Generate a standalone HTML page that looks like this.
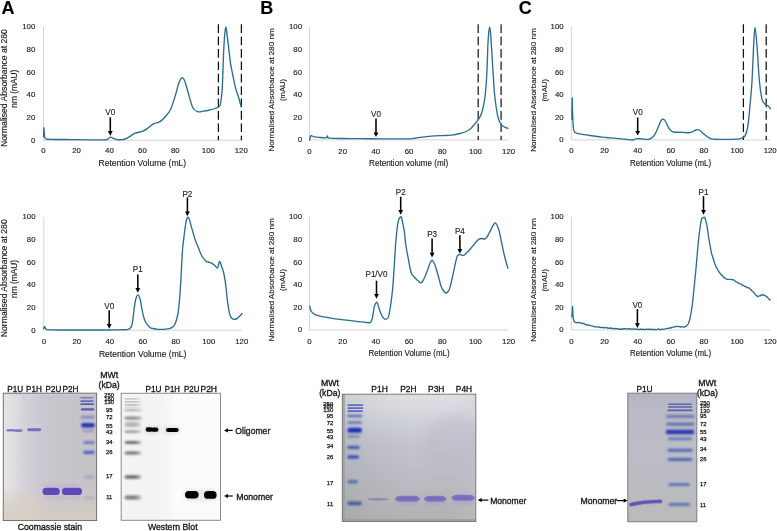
<!DOCTYPE html>
<html><head><meta charset="utf-8"><title>Figure</title>
<style>html,body{margin:0;padding:0;background:#fff;}body{width:777px;height:531px;overflow:hidden;font-family:"Liberation Sans",sans-serif;}svg{display:block;will-change:transform;} text{stroke:#1a1a1a;stroke-width:0.14px;}</style>
</head><body>
<svg width="777" height="531" viewBox="0 0 777 531" font-family='"Liberation Sans", sans-serif'>
<rect width="777" height="531" fill="#fff"/>
<text x="1.50" y="14.10" font-size="18.00" text-anchor="start" fill="#000" font-weight="bold" >A</text>
<text x="260.20" y="14.10" font-size="18.00" text-anchor="start" fill="#000" font-weight="bold" >B</text>
<text x="518.80" y="14.10" font-size="18.00" text-anchor="start" fill="#000" font-weight="bold" >C</text>
<line x1="43.50" y1="26.80" x2="43.50" y2="140.30" stroke="#d4d4d4" stroke-width="1"/>
<line x1="43.50" y1="140.30" x2="241.30" y2="140.30" stroke="#d4d4d4" stroke-width="1"/>
<text x="35.30" y="142.77" font-size="7.80" text-anchor="end" fill="#1a1a1a" font-weight="normal" >0</text>
<text x="35.30" y="120.07" font-size="7.80" text-anchor="end" fill="#1a1a1a" font-weight="normal" >20</text>
<text x="35.30" y="97.37" font-size="7.80" text-anchor="end" fill="#1a1a1a" font-weight="normal" >40</text>
<text x="35.30" y="74.67" font-size="7.80" text-anchor="end" fill="#1a1a1a" font-weight="normal" >60</text>
<text x="35.30" y="51.97" font-size="7.80" text-anchor="end" fill="#1a1a1a" font-weight="normal" >80</text>
<text x="35.30" y="29.27" font-size="7.80" text-anchor="end" fill="#1a1a1a" font-weight="normal" >100</text>
<text x="43.50" y="153.32" font-size="7.80" text-anchor="middle" fill="#1a1a1a" font-weight="normal" >0</text>
<text x="76.47" y="153.32" font-size="7.80" text-anchor="middle" fill="#1a1a1a" font-weight="normal" >20</text>
<text x="109.43" y="153.32" font-size="7.80" text-anchor="middle" fill="#1a1a1a" font-weight="normal" >40</text>
<text x="142.40" y="153.32" font-size="7.80" text-anchor="middle" fill="#1a1a1a" font-weight="normal" >60</text>
<text x="175.37" y="153.32" font-size="7.80" text-anchor="middle" fill="#1a1a1a" font-weight="normal" >80</text>
<text x="208.33" y="153.32" font-size="7.80" text-anchor="middle" fill="#1a1a1a" font-weight="normal" >100</text>
<text x="241.30" y="153.32" font-size="7.80" text-anchor="middle" fill="#1a1a1a" font-weight="normal" >120</text>
<text x="142.30" y="166.10" font-size="9.00" text-anchor="middle" fill="#1a1a1a" font-weight="normal"  textLength="87.72" lengthAdjust="spacingAndGlyphs">Retention Volume (mL)</text>
<text transform="translate(7.00,88.05) rotate(-90)" font-size="9.20" text-anchor="middle" fill="#1a1a1a" textLength="117.84" lengthAdjust="spacingAndGlyphs">Normalised Absorbance at 280</text>
<text transform="translate(17.10,88.75) rotate(-90)" font-size="9.20" text-anchor="middle" fill="#1a1a1a" textLength="38.04" lengthAdjust="spacingAndGlyphs">nm (mAU)</text>
<line x1="218.40" y1="24.20" x2="218.40" y2="140.30" stroke="#111" stroke-width="1.25" stroke-dasharray="8.7 3.7"/>
<line x1="241.40" y1="24.20" x2="241.40" y2="140.30" stroke="#111" stroke-width="1.25" stroke-dasharray="8.7 3.7"/>
<path d="M43.60,136.50 C43.65,135.05 43.77,128.05 43.90,127.80 C44.03,127.55 44.13,133.20 44.40,135.00 C44.67,136.80 44.57,137.88 45.50,138.60 C46.43,139.32 45.92,139.13 50.00,139.30 C54.08,139.47 63.33,139.52 70.00,139.60 C76.67,139.68 84.33,139.77 90.00,139.80 C95.67,139.83 101.17,139.83 104.00,139.80 C106.83,139.77 105.95,140.05 107.00,139.60 C108.05,139.15 109.22,137.28 110.30,137.10 C111.38,136.92 112.38,138.08 113.50,138.50 C114.62,138.92 115.68,139.40 117.00,139.60 C118.32,139.80 120.07,139.80 121.40,139.70 C122.73,139.60 123.57,139.57 125.00,139.00 C126.43,138.43 128.32,137.27 130.00,136.30 C131.68,135.33 132.98,134.05 135.10,133.20 C137.22,132.35 140.55,132.07 142.70,131.20 C144.85,130.33 146.17,129.27 148.00,128.00 C149.83,126.73 151.75,124.62 153.70,123.60 C155.65,122.58 157.82,123.00 159.70,121.90 C161.58,120.80 163.17,119.12 165.00,117.00 C166.83,114.88 168.90,113.05 170.70,109.20 C172.50,105.35 174.50,98.10 175.80,93.90 C177.10,89.70 177.52,86.68 178.50,84.00 C179.48,81.32 180.70,78.38 181.70,77.80 C182.70,77.22 183.52,78.38 184.50,80.50 C185.48,82.62 186.23,86.00 187.60,90.50 C188.97,95.00 191.00,103.97 192.70,107.50 C194.40,111.03 196.08,111.08 197.80,111.70 C199.52,112.32 201.02,111.48 203.00,111.20 C204.98,110.92 207.70,110.45 209.70,110.00 C211.70,109.55 213.32,109.20 215.00,108.50 C216.68,107.80 218.78,107.27 219.80,105.80 C220.82,104.33 220.68,102.70 221.10,99.70 C221.52,96.70 221.93,94.42 222.30,87.80 C222.67,81.18 222.97,67.97 223.30,60.00 C223.63,52.03 223.90,45.47 224.30,40.00 C224.70,34.53 225.17,27.53 225.70,27.20 C226.23,26.87 226.72,32.13 227.50,38.00 C228.28,43.87 229.48,56.07 230.40,62.40 C231.32,68.73 232.15,71.77 233.00,76.00 C233.85,80.23 234.58,84.30 235.50,87.80 C236.42,91.30 237.57,93.90 238.50,97.00 C239.43,100.10 240.67,104.83 241.10,106.40" fill="none" stroke="#2b6d92" stroke-width="1.35" stroke-linejoin="round" stroke-linecap="round"/>
<line x1="110.30" y1="117.30" x2="110.30" y2="131.60" stroke="#000" stroke-width="1.55"/>
<path d="M107.90,131.10 L112.70,131.10 L110.30,135.80 Z" fill="#000"/>
<text x="110.30" y="115.37" font-size="9.20" text-anchor="middle" fill="#1a1a1a" font-weight="normal"  textLength="9.89" lengthAdjust="spacingAndGlyphs">V0</text>
<line x1="309.50" y1="26.80" x2="309.50" y2="139.90" stroke="#d4d4d4" stroke-width="1"/>
<line x1="309.50" y1="139.90" x2="508.60" y2="139.90" stroke="#d4d4d4" stroke-width="1"/>
<text x="302.00" y="142.37" font-size="7.80" text-anchor="end" fill="#1a1a1a" font-weight="normal" >0</text>
<text x="302.00" y="119.75" font-size="7.80" text-anchor="end" fill="#1a1a1a" font-weight="normal" >20</text>
<text x="302.00" y="97.13" font-size="7.80" text-anchor="end" fill="#1a1a1a" font-weight="normal" >40</text>
<text x="302.00" y="74.51" font-size="7.80" text-anchor="end" fill="#1a1a1a" font-weight="normal" >60</text>
<text x="302.00" y="51.89" font-size="7.80" text-anchor="end" fill="#1a1a1a" font-weight="normal" >80</text>
<text x="302.00" y="29.27" font-size="7.80" text-anchor="end" fill="#1a1a1a" font-weight="normal" >100</text>
<text x="309.50" y="153.52" font-size="7.80" text-anchor="middle" fill="#1a1a1a" font-weight="normal" >0</text>
<text x="342.68" y="153.52" font-size="7.80" text-anchor="middle" fill="#1a1a1a" font-weight="normal" >20</text>
<text x="375.87" y="153.52" font-size="7.80" text-anchor="middle" fill="#1a1a1a" font-weight="normal" >40</text>
<text x="409.05" y="153.52" font-size="7.80" text-anchor="middle" fill="#1a1a1a" font-weight="normal" >60</text>
<text x="442.23" y="153.52" font-size="7.80" text-anchor="middle" fill="#1a1a1a" font-weight="normal" >80</text>
<text x="475.42" y="153.52" font-size="7.80" text-anchor="middle" fill="#1a1a1a" font-weight="normal" >100</text>
<text x="508.60" y="153.52" font-size="7.80" text-anchor="middle" fill="#1a1a1a" font-weight="normal" >120</text>
<text x="408.60" y="165.80" font-size="8.60" text-anchor="middle" fill="#1a1a1a" font-weight="normal"  textLength="79.09" lengthAdjust="spacingAndGlyphs">Retention volume (ml)</text>
<text transform="translate(274.40,89.95) rotate(-90)" font-size="8.10" text-anchor="middle" fill="#1a1a1a" textLength="123.15" lengthAdjust="spacingAndGlyphs">Normalised Absorbance at 280 nm</text>
<text transform="translate(285.10,89.90) rotate(-90)" font-size="8.10" text-anchor="middle" fill="#1a1a1a" textLength="22.05" lengthAdjust="spacingAndGlyphs">(mAU)</text>
<line x1="478.20" y1="24.20" x2="478.20" y2="139.90" stroke="#1a1a1a" stroke-width="1.25" stroke-dasharray="8.7 3.7"/>
<line x1="501.10" y1="24.20" x2="501.10" y2="139.90" stroke="#1a1a1a" stroke-width="1.25" stroke-dasharray="8.7 3.7"/>
<path d="M309.60,140.20 C309.75,139.58 310.23,137.27 310.50,136.50 C310.77,135.73 310.57,135.55 311.20,135.60 C311.83,135.65 312.83,136.48 314.30,136.80 C315.77,137.12 318.20,137.32 320.00,137.50 C321.80,137.68 324.00,137.90 325.10,137.90 C326.20,137.90 326.22,137.82 326.60,137.50 C326.98,137.18 327.17,135.95 327.40,136.00 C327.63,136.05 327.62,137.43 328.00,137.80 C328.38,138.17 327.70,138.08 329.70,138.20 C331.70,138.32 334.95,138.42 340.00,138.50 C345.05,138.58 353.33,138.65 360.00,138.70 C366.67,138.75 373.33,138.78 380.00,138.80 C386.67,138.82 395.00,138.80 400.00,138.80 C405.00,138.80 407.33,138.93 410.00,138.80 C412.67,138.67 413.97,138.28 416.00,138.00 C418.03,137.72 419.12,137.45 422.20,137.10 C425.28,136.75 431.03,136.15 434.50,135.90 C437.97,135.65 440.15,135.73 443.00,135.60 C445.85,135.47 448.77,135.45 451.60,135.10 C454.43,134.75 457.55,134.10 460.00,133.50 C462.45,132.90 464.55,132.28 466.30,131.50 C468.05,130.72 469.27,129.83 470.50,128.80 C471.73,127.77 472.35,126.90 473.70,125.30 C475.05,123.70 477.30,121.17 478.60,119.20 C479.90,117.23 480.68,115.75 481.50,113.50 C482.32,111.25 482.88,108.78 483.50,105.70 C484.12,102.62 484.72,99.08 485.20,95.00 C485.68,90.92 486.05,86.70 486.40,81.20 C486.75,75.70 487.05,68.12 487.30,62.00 C487.55,55.88 487.65,49.50 487.90,44.50 C488.15,39.50 488.52,34.87 488.80,32.00 C489.08,29.13 489.32,27.30 489.60,27.30 C489.88,27.30 490.22,29.22 490.50,32.00 C490.78,34.78 491.03,39.88 491.30,44.00 C491.57,48.12 491.77,51.37 492.10,56.70 C492.43,62.03 492.90,69.87 493.30,76.00 C493.70,82.13 494.00,88.17 494.50,93.50 C495.00,98.83 495.68,103.92 496.30,108.00 C496.92,112.08 497.58,115.58 498.20,118.00 C498.82,120.42 499.38,121.28 500.00,122.50 C500.62,123.72 501.07,124.50 501.90,125.30 C502.73,126.10 503.98,126.80 505.00,127.30 C506.02,127.80 507.50,128.13 508.00,128.30" fill="none" stroke="#2b6d92" stroke-width="1.35" stroke-linejoin="round" stroke-linecap="round"/>
<line x1="376.00" y1="118.60" x2="376.00" y2="132.90" stroke="#000" stroke-width="1.55"/>
<path d="M373.60,132.40 L378.40,132.40 L376.00,137.10 Z" fill="#000"/>
<text x="376.00" y="117.07" font-size="9.20" text-anchor="middle" fill="#1a1a1a" font-weight="normal"  textLength="9.89" lengthAdjust="spacingAndGlyphs">V0</text>
<line x1="571.40" y1="26.80" x2="571.40" y2="139.90" stroke="#d4d4d4" stroke-width="1"/>
<line x1="571.40" y1="139.90" x2="770.20" y2="139.90" stroke="#d4d4d4" stroke-width="1"/>
<text x="563.60" y="142.37" font-size="7.80" text-anchor="end" fill="#1a1a1a" font-weight="normal" >0</text>
<text x="563.60" y="119.75" font-size="7.80" text-anchor="end" fill="#1a1a1a" font-weight="normal" >20</text>
<text x="563.60" y="97.13" font-size="7.80" text-anchor="end" fill="#1a1a1a" font-weight="normal" >40</text>
<text x="563.60" y="74.51" font-size="7.80" text-anchor="end" fill="#1a1a1a" font-weight="normal" >60</text>
<text x="563.60" y="51.89" font-size="7.80" text-anchor="end" fill="#1a1a1a" font-weight="normal" >80</text>
<text x="563.60" y="29.27" font-size="7.80" text-anchor="end" fill="#1a1a1a" font-weight="normal" >100</text>
<text x="571.40" y="153.32" font-size="7.80" text-anchor="middle" fill="#1a1a1a" font-weight="normal" >0</text>
<text x="604.53" y="153.32" font-size="7.80" text-anchor="middle" fill="#1a1a1a" font-weight="normal" >20</text>
<text x="637.67" y="153.32" font-size="7.80" text-anchor="middle" fill="#1a1a1a" font-weight="normal" >40</text>
<text x="670.80" y="153.32" font-size="7.80" text-anchor="middle" fill="#1a1a1a" font-weight="normal" >60</text>
<text x="703.93" y="153.32" font-size="7.80" text-anchor="middle" fill="#1a1a1a" font-weight="normal" >80</text>
<text x="737.07" y="153.32" font-size="7.80" text-anchor="middle" fill="#1a1a1a" font-weight="normal" >100</text>
<text x="770.20" y="153.32" font-size="7.80" text-anchor="middle" fill="#1a1a1a" font-weight="normal" >120</text>
<text x="670.60" y="165.80" font-size="8.60" text-anchor="middle" fill="#1a1a1a" font-weight="normal"  textLength="81.09" lengthAdjust="spacingAndGlyphs">Retention Volume (mL)</text>
<text transform="translate(536.30,90.00) rotate(-90)" font-size="8.10" text-anchor="middle" fill="#1a1a1a" textLength="123.45" lengthAdjust="spacingAndGlyphs">Normalised Absorbance at 280 nm</text>
<text transform="translate(546.90,90.20) rotate(-90)" font-size="8.10" text-anchor="middle" fill="#1a1a1a" textLength="22.65" lengthAdjust="spacingAndGlyphs">(mAU)</text>
<line x1="743.40" y1="24.20" x2="743.40" y2="139.90" stroke="#111" stroke-width="1.25" stroke-dasharray="8.7 3.7"/>
<line x1="766.20" y1="24.20" x2="766.20" y2="139.90" stroke="#111" stroke-width="1.25" stroke-dasharray="8.7 3.7"/>
<path d="M571.90,119.20 C571.95,115.67 572.10,99.53 572.20,98.00 C572.30,96.47 572.40,106.67 572.50,110.00 C572.60,113.33 572.67,115.17 572.80,118.00 C572.93,120.83 573.05,124.75 573.30,127.00 C573.55,129.25 573.77,130.50 574.30,131.50 C574.83,132.50 575.60,132.60 576.50,133.00 C577.40,133.40 577.45,133.48 579.70,133.90 C581.95,134.32 586.33,134.97 590.00,135.50 C593.67,136.03 598.37,136.70 601.70,137.10 C605.03,137.50 607.13,137.65 610.00,137.90 C612.87,138.15 616.23,138.37 618.90,138.60 C621.57,138.83 623.75,139.07 626.00,139.30 C628.25,139.53 630.90,140.02 632.40,140.00 C633.90,139.98 634.18,139.43 635.00,139.20 C635.82,138.97 636.13,138.65 637.30,138.60 C638.47,138.55 640.17,138.78 642.00,138.90 C643.83,139.02 646.72,139.45 648.30,139.30 C649.88,139.15 650.48,138.70 651.50,138.00 C652.52,137.30 653.48,136.43 654.40,135.10 C655.32,133.77 656.15,131.85 657.00,130.00 C657.85,128.15 658.78,125.62 659.50,124.00 C660.22,122.38 660.72,121.10 661.30,120.30 C661.88,119.50 662.38,119.17 663.00,119.20 C663.62,119.23 664.05,119.07 665.00,120.50 C665.95,121.93 667.70,126.08 668.70,127.80 C669.70,129.52 670.18,130.10 671.00,130.80 C671.82,131.50 672.43,131.75 673.60,132.00 C674.77,132.25 676.57,132.25 678.00,132.30 C679.43,132.35 680.28,132.23 682.20,132.30 C684.12,132.37 687.70,132.83 689.50,132.70 C691.30,132.57 691.77,132.02 693.00,131.50 C694.23,130.98 695.73,129.77 696.90,129.60 C698.07,129.43 698.98,129.90 700.00,130.50 C701.02,131.10 701.83,132.20 703.00,133.20 C704.17,134.20 705.57,135.55 707.00,136.50 C708.43,137.45 709.77,138.43 711.60,138.90 C713.43,139.37 715.55,139.22 718.00,139.30 C720.45,139.38 722.88,139.47 726.30,139.40 C729.72,139.33 735.88,139.13 738.50,138.90 C741.12,138.67 740.97,138.42 742.00,138.00 C743.03,137.58 743.95,137.40 744.70,136.40 C745.45,135.40 745.90,134.25 746.50,132.00 C747.10,129.75 747.68,127.73 748.30,122.90 C748.92,118.07 749.58,109.93 750.20,103.00 C750.82,96.07 751.42,91.05 752.00,81.30 C752.58,71.55 753.20,53.48 753.70,44.50 C754.20,35.52 754.47,27.40 755.00,27.40 C755.53,27.40 756.17,35.52 756.90,44.50 C757.63,53.48 758.58,72.32 759.40,81.30 C760.22,90.28 761.12,94.87 761.80,98.40 C762.48,101.93 762.88,101.47 763.50,102.50 C764.12,103.53 764.75,104.05 765.50,104.60 C766.25,105.15 767.18,105.12 768.00,105.80 C768.82,106.48 770.00,108.22 770.40,108.70" fill="none" stroke="#2b6d92" stroke-width="1.35" stroke-linejoin="round" stroke-linecap="round"/>
<line x1="637.70" y1="117.50" x2="637.70" y2="131.40" stroke="#000" stroke-width="1.55"/>
<path d="M635.30,130.90 L640.10,130.90 L637.70,135.60 Z" fill="#000"/>
<text x="637.70" y="115.27" font-size="9.20" text-anchor="middle" fill="#1a1a1a" font-weight="normal"  textLength="9.89" lengthAdjust="spacingAndGlyphs">V0</text>
<line x1="43.80" y1="216.80" x2="43.80" y2="330.20" stroke="#d4d4d4" stroke-width="1"/>
<line x1="43.80" y1="330.20" x2="241.80" y2="330.20" stroke="#d4d4d4" stroke-width="1"/>
<text x="35.50" y="332.67" font-size="7.80" text-anchor="end" fill="#1a1a1a" font-weight="normal" >0</text>
<text x="35.50" y="309.99" font-size="7.80" text-anchor="end" fill="#1a1a1a" font-weight="normal" >20</text>
<text x="35.50" y="287.31" font-size="7.80" text-anchor="end" fill="#1a1a1a" font-weight="normal" >40</text>
<text x="35.50" y="264.63" font-size="7.80" text-anchor="end" fill="#1a1a1a" font-weight="normal" >60</text>
<text x="35.50" y="241.95" font-size="7.80" text-anchor="end" fill="#1a1a1a" font-weight="normal" >80</text>
<text x="35.50" y="219.27" font-size="7.80" text-anchor="end" fill="#1a1a1a" font-weight="normal" >100</text>
<text x="43.80" y="343.82" font-size="7.80" text-anchor="middle" fill="#1a1a1a" font-weight="normal" >0</text>
<text x="76.80" y="343.82" font-size="7.80" text-anchor="middle" fill="#1a1a1a" font-weight="normal" >20</text>
<text x="109.80" y="343.82" font-size="7.80" text-anchor="middle" fill="#1a1a1a" font-weight="normal" >40</text>
<text x="142.80" y="343.82" font-size="7.80" text-anchor="middle" fill="#1a1a1a" font-weight="normal" >60</text>
<text x="175.80" y="343.82" font-size="7.80" text-anchor="middle" fill="#1a1a1a" font-weight="normal" >80</text>
<text x="208.80" y="343.82" font-size="7.80" text-anchor="middle" fill="#1a1a1a" font-weight="normal" >100</text>
<text x="241.80" y="343.82" font-size="7.80" text-anchor="middle" fill="#1a1a1a" font-weight="normal" >120</text>
<text x="142.65" y="356.60" font-size="9.00" text-anchor="middle" fill="#1a1a1a" font-weight="normal"  textLength="87.42" lengthAdjust="spacingAndGlyphs">Retention Volume (mL)</text>
<text transform="translate(7.00,278.25) rotate(-90)" font-size="9.20" text-anchor="middle" fill="#1a1a1a" textLength="117.84" lengthAdjust="spacingAndGlyphs">Normalised Absorbance at 280</text>
<text transform="translate(17.10,278.95) rotate(-90)" font-size="9.20" text-anchor="middle" fill="#1a1a1a" textLength="38.04" lengthAdjust="spacingAndGlyphs">nm (mAU)</text>
<path d="M43.70,328.80 C43.83,328.38 44.20,326.38 44.50,326.30 C44.80,326.22 45.17,327.80 45.50,328.30 C45.83,328.80 45.75,329.05 46.50,329.30 C47.25,329.55 46.08,329.68 50.00,329.80 C53.92,329.92 61.67,329.97 70.00,330.00 C78.33,330.03 91.67,330.02 100.00,330.00 C108.33,329.98 115.83,329.95 120.00,329.90 C124.17,329.85 123.65,329.80 125.00,329.70 C126.35,329.60 127.27,329.53 128.10,329.30 C128.93,329.07 129.43,328.80 130.00,328.30 C130.57,327.80 131.03,327.68 131.50,326.30 C131.97,324.92 132.37,322.83 132.80,320.00 C133.23,317.17 133.60,312.80 134.10,309.30 C134.60,305.80 135.15,301.40 135.80,299.00 C136.45,296.60 137.30,294.93 138.00,294.90 C138.70,294.87 139.38,296.68 140.00,298.80 C140.62,300.92 141.12,304.65 141.70,307.60 C142.28,310.55 142.82,314.02 143.50,316.50 C144.18,318.98 144.72,320.67 145.80,322.50 C146.88,324.33 148.78,326.50 150.00,327.50 C151.22,328.50 151.77,328.20 153.10,328.50 C154.43,328.80 156.30,329.15 158.00,329.30 C159.70,329.45 161.63,329.47 163.30,329.40 C164.97,329.33 166.80,329.10 168.00,328.90 C169.20,328.70 169.72,328.52 170.50,328.20 C171.28,327.88 172.03,327.57 172.70,327.00 C173.37,326.43 173.98,325.63 174.50,324.80 C175.02,323.97 175.27,323.63 175.80,322.00 C176.33,320.37 177.22,317.33 177.70,315.00 C178.18,312.67 178.40,310.50 178.70,308.00 C179.00,305.50 179.23,303.17 179.50,300.00 C179.77,296.83 180.07,292.33 180.30,289.00 C180.53,285.67 180.70,283.50 180.90,280.00 C181.10,276.50 181.33,271.33 181.50,268.00 C181.67,264.67 181.72,263.17 181.90,260.00 C182.08,256.83 182.32,252.33 182.60,249.00 C182.88,245.67 183.20,243.42 183.60,240.00 C184.00,236.58 184.57,231.67 185.00,228.50 C185.43,225.33 185.75,222.87 186.20,221.00 C186.65,219.13 187.18,217.60 187.70,217.30 C188.22,217.00 188.73,217.77 189.30,219.20 C189.87,220.63 190.48,223.68 191.10,225.90 C191.72,228.12 192.28,230.08 193.00,232.50 C193.72,234.92 194.48,237.82 195.40,240.40 C196.32,242.98 197.52,245.57 198.50,248.00 C199.48,250.43 200.10,252.85 201.30,255.00 C202.50,257.15 204.50,259.73 205.70,260.90 C206.90,262.07 207.53,261.62 208.50,262.00 C209.47,262.38 210.50,262.67 211.50,263.20 C212.50,263.73 213.53,264.37 214.50,265.20 C215.47,266.03 216.63,268.23 217.30,268.20 C217.97,268.17 218.15,266.12 218.50,265.00 C218.85,263.88 219.07,261.83 219.40,261.50 C219.73,261.17 220.12,262.13 220.50,263.00 C220.88,263.87 221.20,265.20 221.70,266.70 C222.20,268.20 222.92,269.57 223.50,272.00 C224.08,274.43 224.72,278.13 225.20,281.30 C225.68,284.47 226.02,287.60 226.40,291.00 C226.78,294.40 227.12,298.70 227.50,301.70 C227.88,304.70 228.30,306.80 228.70,309.00 C229.10,311.20 229.43,313.40 229.90,314.90 C230.37,316.40 230.92,317.28 231.50,318.00 C232.08,318.72 232.82,318.98 233.40,319.20 C233.98,319.42 234.42,319.40 235.00,319.30 C235.58,319.20 236.15,319.10 236.90,318.60 C237.65,318.10 238.63,317.17 239.50,316.30 C240.37,315.43 241.67,313.88 242.10,313.40" fill="none" stroke="#2b6d92" stroke-width="1.35" stroke-linejoin="round" stroke-linecap="round"/>
<line x1="109.20" y1="310.20" x2="109.20" y2="324.60" stroke="#000" stroke-width="1.55"/>
<path d="M106.80,324.10 L111.60,324.10 L109.20,328.80 Z" fill="#000"/>
<text x="109.20" y="308.77" font-size="9.20" text-anchor="middle" fill="#1a1a1a" font-weight="normal"  textLength="9.89" lengthAdjust="spacingAndGlyphs">V0</text>
<line x1="137.80" y1="274.60" x2="137.80" y2="288.50" stroke="#000" stroke-width="1.55"/>
<path d="M135.40,288.00 L140.20,288.00 L137.80,292.70 Z" fill="#000"/>
<text x="137.80" y="272.17" font-size="9.20" text-anchor="middle" fill="#1a1a1a" font-weight="normal"  textLength="9.89" lengthAdjust="spacingAndGlyphs">P1</text>
<line x1="187.40" y1="197.40" x2="187.40" y2="212.00" stroke="#000" stroke-width="1.55"/>
<path d="M185.00,211.50 L189.80,211.50 L187.40,216.20 Z" fill="#000"/>
<text x="187.40" y="196.97" font-size="9.20" text-anchor="middle" fill="#1a1a1a" font-weight="normal"  textLength="9.89" lengthAdjust="spacingAndGlyphs">P2</text>
<line x1="309.50" y1="216.90" x2="309.50" y2="330.00" stroke="#d4d4d4" stroke-width="1"/>
<line x1="309.50" y1="330.00" x2="508.60" y2="330.00" stroke="#d4d4d4" stroke-width="1"/>
<text x="302.00" y="332.47" font-size="7.80" text-anchor="end" fill="#1a1a1a" font-weight="normal" >0</text>
<text x="302.00" y="309.85" font-size="7.80" text-anchor="end" fill="#1a1a1a" font-weight="normal" >20</text>
<text x="302.00" y="287.23" font-size="7.80" text-anchor="end" fill="#1a1a1a" font-weight="normal" >40</text>
<text x="302.00" y="264.61" font-size="7.80" text-anchor="end" fill="#1a1a1a" font-weight="normal" >60</text>
<text x="302.00" y="241.99" font-size="7.80" text-anchor="end" fill="#1a1a1a" font-weight="normal" >80</text>
<text x="302.00" y="219.37" font-size="7.80" text-anchor="end" fill="#1a1a1a" font-weight="normal" >100</text>
<text x="309.50" y="343.82" font-size="7.80" text-anchor="middle" fill="#1a1a1a" font-weight="normal" >0</text>
<text x="342.68" y="343.82" font-size="7.80" text-anchor="middle" fill="#1a1a1a" font-weight="normal" >20</text>
<text x="375.87" y="343.82" font-size="7.80" text-anchor="middle" fill="#1a1a1a" font-weight="normal" >40</text>
<text x="409.05" y="343.82" font-size="7.80" text-anchor="middle" fill="#1a1a1a" font-weight="normal" >60</text>
<text x="442.23" y="343.82" font-size="7.80" text-anchor="middle" fill="#1a1a1a" font-weight="normal" >80</text>
<text x="475.42" y="343.82" font-size="7.80" text-anchor="middle" fill="#1a1a1a" font-weight="normal" >100</text>
<text x="508.60" y="343.82" font-size="7.80" text-anchor="middle" fill="#1a1a1a" font-weight="normal" >120</text>
<text x="409.00" y="356.30" font-size="8.60" text-anchor="middle" fill="#1a1a1a" font-weight="normal"  textLength="81.09" lengthAdjust="spacingAndGlyphs">Retention Volume (mL)</text>
<text transform="translate(274.40,279.95) rotate(-90)" font-size="8.10" text-anchor="middle" fill="#1a1a1a" textLength="123.15" lengthAdjust="spacingAndGlyphs">Normalised Absorbance at 280 nm</text>
<text transform="translate(285.10,279.90) rotate(-90)" font-size="8.10" text-anchor="middle" fill="#1a1a1a" textLength="22.05" lengthAdjust="spacingAndGlyphs">(mAU)</text>
<path d="M309.80,306.10 C309.92,306.67 310.18,308.53 310.50,309.50 C310.82,310.47 311.02,311.10 311.70,311.90 C312.38,312.70 313.22,313.58 314.60,314.30 C315.98,315.02 317.57,315.62 320.00,316.20 C322.43,316.78 325.23,317.20 329.20,317.80 C333.17,318.40 338.93,319.17 343.80,319.80 C348.67,320.43 354.70,321.15 358.40,321.60 C362.10,322.05 364.07,322.32 366.00,322.50 C367.93,322.68 369.10,322.98 370.00,322.70 C370.90,322.42 371.00,321.62 371.40,320.80 C371.80,319.98 372.05,319.35 372.40,317.80 C372.75,316.25 373.17,313.45 373.50,311.50 C373.83,309.55 373.90,307.63 374.40,306.10 C374.90,304.57 375.93,302.65 376.50,302.30 C377.07,301.95 377.42,303.12 377.80,304.00 C378.18,304.88 378.35,306.18 378.80,307.60 C379.25,309.02 379.92,311.05 380.50,312.50 C381.08,313.95 381.72,315.30 382.30,316.30 C382.88,317.30 383.37,318.02 384.00,318.50 C384.63,318.98 385.47,319.28 386.10,319.20 C386.73,319.12 387.32,318.72 387.80,318.00 C388.28,317.28 388.50,317.23 389.00,314.90 C389.50,312.57 390.17,308.63 390.80,304.00 C391.43,299.37 392.22,293.60 392.80,287.10 C393.38,280.60 393.82,272.28 394.30,265.00 C394.78,257.72 395.22,249.57 395.70,243.40 C396.18,237.23 396.72,231.90 397.20,228.00 C397.68,224.10 398.07,221.82 398.60,220.00 C399.13,218.18 399.92,217.52 400.40,217.10 C400.88,216.68 401.12,216.53 401.50,217.50 C401.88,218.47 402.22,220.53 402.70,222.90 C403.18,225.27 403.92,228.28 404.40,231.70 C404.88,235.12 405.20,240.18 405.60,243.40 C406.00,246.62 406.37,248.57 406.80,251.00 C407.23,253.43 407.67,255.17 408.20,258.00 C408.73,260.83 409.42,265.32 410.00,268.00 C410.58,270.68 411.07,272.68 411.70,274.10 C412.33,275.52 413.07,275.68 413.80,276.50 C414.53,277.32 415.35,278.25 416.10,279.00 C416.85,279.75 417.58,280.37 418.30,281.00 C419.02,281.63 419.70,282.72 420.40,282.80 C421.10,282.88 421.77,282.47 422.50,281.50 C423.23,280.53 424.05,278.67 424.80,277.00 C425.55,275.33 426.27,273.45 427.00,271.50 C427.73,269.55 428.57,266.97 429.20,265.30 C429.83,263.63 430.27,262.33 430.80,261.50 C431.33,260.67 431.80,259.97 432.40,260.30 C433.00,260.63 433.72,261.93 434.40,263.50 C435.08,265.07 435.78,267.37 436.50,269.70 C437.22,272.03 437.97,274.83 438.70,277.50 C439.43,280.17 440.13,283.53 440.90,285.70 C441.67,287.87 442.48,289.28 443.30,290.50 C444.12,291.72 445.07,292.75 445.80,293.00 C446.53,293.25 447.07,292.73 447.70,292.00 C448.33,291.27 448.92,290.60 449.60,288.60 C450.28,286.60 451.07,283.15 451.80,280.00 C452.53,276.85 453.33,272.78 454.00,269.70 C454.67,266.62 455.22,263.83 455.80,261.50 C456.38,259.17 456.82,256.87 457.50,255.70 C458.18,254.53 459.15,254.57 459.90,254.50 C460.65,254.43 461.28,255.20 462.00,255.30 C462.72,255.40 463.37,255.57 464.20,255.10 C465.03,254.63 466.02,253.48 467.00,252.50 C467.98,251.52 468.93,250.53 470.10,249.20 C471.27,247.87 472.78,245.95 474.00,244.50 C475.22,243.05 476.23,241.50 477.40,240.50 C478.57,239.50 479.78,238.75 481.00,238.50 C482.22,238.25 483.70,239.25 484.70,239.00 C485.70,238.75 486.27,237.97 487.00,237.00 C487.73,236.03 488.27,234.78 489.10,233.20 C489.93,231.62 491.18,229.03 492.00,227.50 C492.82,225.97 493.42,224.75 494.00,224.00 C494.58,223.25 494.97,222.75 495.50,223.00 C496.03,223.25 496.57,224.05 497.20,225.50 C497.83,226.95 498.58,228.95 499.30,231.70 C500.02,234.45 500.78,238.58 501.50,242.00 C502.22,245.42 502.88,249.03 503.60,252.20 C504.32,255.37 505.07,258.33 505.80,261.00 C506.53,263.67 507.63,267.00 508.00,268.20" fill="none" stroke="#2b6d92" stroke-width="1.35" stroke-linejoin="round" stroke-linecap="round"/>
<line x1="376.50" y1="280.70" x2="376.50" y2="294.60" stroke="#000" stroke-width="1.55"/>
<path d="M374.10,294.10 L378.90,294.10 L376.50,298.80 Z" fill="#000"/>
<text x="376.50" y="277.07" font-size="9.20" text-anchor="middle" fill="#1a1a1a" font-weight="normal"  textLength="22.02" lengthAdjust="spacingAndGlyphs">P1/V0</text>
<line x1="400.70" y1="196.70" x2="400.70" y2="210.60" stroke="#000" stroke-width="1.55"/>
<path d="M398.30,210.10 L403.10,210.10 L400.70,214.80 Z" fill="#000"/>
<text x="400.70" y="194.57" font-size="9.20" text-anchor="middle" fill="#1a1a1a" font-weight="normal"  textLength="9.89" lengthAdjust="spacingAndGlyphs">P2</text>
<line x1="432.10" y1="238.40" x2="432.10" y2="253.20" stroke="#000" stroke-width="1.55"/>
<path d="M429.70,252.70 L434.50,252.70 L432.10,257.40 Z" fill="#000"/>
<text x="432.10" y="237.27" font-size="9.20" text-anchor="middle" fill="#1a1a1a" font-weight="normal"  textLength="9.89" lengthAdjust="spacingAndGlyphs">P3</text>
<line x1="459.90" y1="235.20" x2="459.90" y2="249.40" stroke="#000" stroke-width="1.55"/>
<path d="M457.50,248.90 L462.30,248.90 L459.90,253.60 Z" fill="#000"/>
<text x="459.90" y="233.97" font-size="9.20" text-anchor="middle" fill="#1a1a1a" font-weight="normal"  textLength="9.89" lengthAdjust="spacingAndGlyphs">P4</text>
<line x1="571.40" y1="216.90" x2="571.40" y2="330.00" stroke="#d4d4d4" stroke-width="1"/>
<line x1="571.40" y1="330.00" x2="770.20" y2="330.00" stroke="#d4d4d4" stroke-width="1"/>
<text x="563.60" y="332.47" font-size="7.80" text-anchor="end" fill="#1a1a1a" font-weight="normal" >0</text>
<text x="563.60" y="309.85" font-size="7.80" text-anchor="end" fill="#1a1a1a" font-weight="normal" >20</text>
<text x="563.60" y="287.23" font-size="7.80" text-anchor="end" fill="#1a1a1a" font-weight="normal" >40</text>
<text x="563.60" y="264.61" font-size="7.80" text-anchor="end" fill="#1a1a1a" font-weight="normal" >60</text>
<text x="563.60" y="241.99" font-size="7.80" text-anchor="end" fill="#1a1a1a" font-weight="normal" >80</text>
<text x="563.60" y="219.37" font-size="7.80" text-anchor="end" fill="#1a1a1a" font-weight="normal" >100</text>
<text x="571.40" y="343.62" font-size="7.80" text-anchor="middle" fill="#1a1a1a" font-weight="normal" >0</text>
<text x="604.53" y="343.62" font-size="7.80" text-anchor="middle" fill="#1a1a1a" font-weight="normal" >20</text>
<text x="637.67" y="343.62" font-size="7.80" text-anchor="middle" fill="#1a1a1a" font-weight="normal" >40</text>
<text x="670.80" y="343.62" font-size="7.80" text-anchor="middle" fill="#1a1a1a" font-weight="normal" >60</text>
<text x="703.93" y="343.62" font-size="7.80" text-anchor="middle" fill="#1a1a1a" font-weight="normal" >80</text>
<text x="737.07" y="343.62" font-size="7.80" text-anchor="middle" fill="#1a1a1a" font-weight="normal" >100</text>
<text x="770.20" y="343.62" font-size="7.80" text-anchor="middle" fill="#1a1a1a" font-weight="normal" >120</text>
<text x="670.60" y="355.80" font-size="8.60" text-anchor="middle" fill="#1a1a1a" font-weight="normal"  textLength="81.09" lengthAdjust="spacingAndGlyphs">Retention Volume (mL)</text>
<text transform="translate(536.30,280.00) rotate(-90)" font-size="8.10" text-anchor="middle" fill="#1a1a1a" textLength="123.45" lengthAdjust="spacingAndGlyphs">Normalised Absorbance at 280 nm</text>
<text transform="translate(546.90,280.20) rotate(-90)" font-size="8.10" text-anchor="middle" fill="#1a1a1a" textLength="22.65" lengthAdjust="spacingAndGlyphs">(mAU)</text>
<path d="M571.90,316.50 L571.94,315.68 L572.01,315.07 L572.08,313.92 L572.16,313.04 L572.23,312.02 L572.30,310.65 L572.37,309.47 L572.43,308.86 L572.48,307.27 L572.54,306.49 L572.60,307.00 L572.63,306.90 L572.66,307.78 L572.70,308.28 L572.73,309.35 L572.76,309.98 L572.79,311.42 L572.83,312.62 L572.86,313.26 L572.90,314.19 L572.97,315.25 L573.03,315.75 L573.10,317.18 L573.19,317.83 L573.30,318.34 L573.55,319.22 L573.85,320.79 L574.20,321.18 L574.79,322.03 L575.50,322.50 L576.34,322.59 L577.30,322.84 L578.33,322.31 L579.60,322.64 L580.44,322.56 L581.40,323.26 L582.41,323.57 L583.40,323.28 L584.12,323.56 L584.80,323.88 L585.51,324.74 L586.32,324.58 L587.30,325.00 L588.02,324.91 L588.80,325.26 L589.64,325.34 L590.52,325.49 L591.44,325.86 L592.38,326.04 L593.34,326.46 L594.30,326.45 L595.07,326.76 L595.84,326.82 L596.62,327.04 L597.41,326.89 L598.21,326.59 L599.04,327.26 L599.90,327.44 L600.79,327.50 L601.72,327.34 L602.70,327.57 L603.44,327.25 L604.23,327.84 L605.06,327.72 L605.92,327.59 L606.81,327.50 L607.70,328.23 L608.61,328.44 L609.50,327.81 L610.39,328.47 L611.25,328.24 L612.08,328.11 L612.87,328.30 L613.61,328.75 L614.30,328.90 L615.35,328.33 L616.25,328.86 L617.04,328.47 L617.77,329.06 L618.48,328.79 L619.23,329.26 L620.05,329.36 L621.00,329.00 L621.71,329.41 L622.47,328.86 L623.27,328.66 L624.10,329.07 L624.95,328.60 L625.81,328.71 L626.68,328.86 L627.53,329.01 L628.37,328.63 L629.19,328.53 L629.97,329.19 L630.70,328.75 L631.62,329.28 L632.49,329.26 L633.32,328.88 L634.13,328.98 L634.91,329.07 L635.68,329.21 L636.44,329.21 L637.22,329.22 L638.00,329.30 L638.89,329.58 L639.76,329.27 L640.62,329.24 L641.49,329.49 L642.35,329.13 L643.22,329.21 L644.10,329.77 L645.00,329.42 L645.82,329.45 L646.67,329.02 L647.54,329.35 L648.41,329.48 L649.28,329.03 L650.13,329.50 L650.96,329.51 L651.75,329.05 L652.50,329.50 L653.52,329.38 L654.46,329.55 L655.33,329.29 L656.19,329.58 L657.07,329.60 L658.00,329.02 L658.88,329.03 L659.81,329.51 L660.77,329.73 L661.72,329.13 L662.63,329.26 L663.47,329.33 L664.20,329.06 L665.45,328.89 L666.35,328.59 L667.30,328.40 L668.16,328.43 L669.06,328.05 L669.95,327.97 L670.80,328.12 L671.84,327.23 L672.83,327.34 L673.80,327.19 L674.77,326.59 L675.74,326.29 L676.70,326.64 L677.67,326.26 L678.63,326.39 L679.60,326.75 L680.58,327.06 L681.56,326.67 L682.50,326.86 L683.39,326.80 L684.23,327.07 L685.00,326.55 L686.01,326.47 L686.90,325.24 L687.47,324.69 L688.00,324.11 L688.50,323.31 L688.78,322.33 L689.03,321.50 L689.28,320.69 L689.53,320.16 L689.80,318.85 L689.96,318.68 L690.12,317.97 L690.29,316.67 L690.46,315.93 L690.63,315.48 L690.80,314.45 L690.97,313.66 L691.14,312.34 L691.30,311.20 L691.42,310.60 L691.54,310.27 L691.66,309.10 L691.77,308.40 L691.89,307.68 L692.01,306.89 L692.12,306.07 L692.24,305.63 L692.35,304.15 L692.47,303.12 L692.58,302.93 L692.70,301.90 L692.78,301.27 L692.86,300.09 L692.95,299.73 L693.03,298.93 L693.11,297.57 L693.19,297.17 L693.27,296.41 L693.35,295.42 L693.43,294.46 L693.52,293.41 L693.60,292.59 L693.68,291.62 L693.76,290.62 L693.85,290.17 L693.93,289.06 L694.02,288.61 L694.10,287.14 L694.18,287.01 L694.26,286.04 L694.34,285.41 L694.43,284.57 L694.51,283.76 L694.59,282.68 L694.68,281.41 L694.76,281.17 L694.84,279.89 L694.93,279.16 L695.01,278.61 L695.10,277.66 L695.18,276.73 L695.26,276.30 L695.35,275.19 L695.43,274.11 L695.52,273.17 L695.60,272.79 L695.68,271.69 L695.75,271.13 L695.83,269.98 L695.90,269.04 L695.98,268.49 L696.05,267.89 L696.13,266.54 L696.20,266.20 L696.28,265.46 L696.36,264.53 L696.43,263.71 L696.51,262.21 L696.58,261.87 L696.66,261.22 L696.73,259.74 L696.81,259.08 L696.88,258.26 L696.95,257.64 L697.03,256.74 L697.10,255.98 L697.18,255.37 L697.25,253.91 L697.33,253.10 L697.40,252.30 L697.47,251.45 L697.55,250.55 L697.62,250.43 L697.69,249.49 L697.76,248.03 L697.84,247.53 L697.91,246.55 L697.98,245.73 L698.05,244.94 L698.13,244.37 L698.20,243.53 L698.27,242.56 L698.35,241.66 L698.42,241.01 L698.50,240.10 L698.60,239.52 L698.70,238.73 L698.80,237.55 L698.90,236.41 L699.00,235.61 L699.10,234.90 L699.20,234.23 L699.30,233.53 L699.40,232.39 L699.50,231.93 L699.60,231.01 L699.70,230.09 L699.80,229.31 L699.90,228.69 L700.00,228.16 L700.15,226.93 L700.29,226.19 L700.44,225.07 L700.58,224.02 L700.72,223.41 L700.87,222.75 L701.01,221.51 L701.14,221.12 L701.27,220.50 L701.40,220.30 L701.78,219.03 L702.13,217.87 L702.50,217.82 L703.80,217.33 L704.39,217.20 L705.00,218.27 L705.23,218.55 L705.46,219.76 L705.71,220.39 L705.95,221.40 L706.18,222.21 L706.40,223.03 L706.55,223.81 L706.69,224.43 L706.83,224.85 L706.96,226.06 L707.09,226.44 L707.23,227.42 L707.36,228.81 L707.50,229.14 L707.62,229.92 L707.73,230.69 L707.85,232.10 L707.96,232.33 L708.08,233.02 L708.20,234.49 L708.32,234.74 L708.45,236.14 L708.57,236.82 L708.70,237.77 L708.83,238.68 L708.97,239.20 L709.10,240.20 L709.24,240.41 L709.38,241.83 L709.52,242.45 L709.67,243.44 L709.81,243.77 L709.96,245.09 L710.10,246.05 L710.26,246.24 L710.41,247.33 L710.57,248.41 L710.72,249.50 L710.88,249.90 L711.04,250.72 L711.22,251.63 L711.40,252.76 L711.60,253.70 L711.81,254.23 L712.04,255.02 L712.28,255.84 L712.53,256.60 L712.78,257.43 L713.04,257.93 L713.30,259.02 L713.55,260.14 L713.80,260.43 L714.07,261.52 L714.35,261.87 L714.62,263.10 L714.90,263.95 L715.17,264.65 L715.45,265.26 L715.73,265.94 L716.00,266.71 L716.44,267.85 L716.88,268.06 L717.32,268.76 L717.76,269.99 L718.20,270.83 L718.63,271.24 L719.05,271.88 L719.47,272.78 L719.92,273.02 L720.40,273.71 L720.94,274.27 L721.51,275.16 L722.11,275.50 L722.71,275.97 L723.30,276.85 L724.02,277.69 L724.73,277.77 L725.45,278.63 L726.20,278.83 L727.00,279.48 L727.84,279.44 L728.68,279.31 L729.50,279.37 L730.56,279.28 L731.60,279.65 L732.60,279.71 L733.53,279.91 L734.42,280.57 L735.30,281.06 L736.16,281.92 L737.01,281.93 L737.90,283.09 L738.84,283.12 L739.82,283.63 L740.80,283.97 L741.52,284.65 L742.25,285.05 L742.98,285.25 L743.70,285.59 L744.43,286.14 L745.15,286.59 L745.88,286.57 L746.60,287.19 L747.34,287.73 L748.09,287.70 L748.82,287.89 L749.50,288.29 L750.29,289.22 L750.99,289.77 L751.70,290.67 L752.26,291.19 L752.82,291.39 L753.37,292.03 L753.90,292.71 L754.56,293.35 L755.18,294.38 L755.80,295.09 L756.44,295.75 L757.07,295.83 L757.70,296.69 L758.52,296.22 L759.50,295.94 L760.23,295.92 L761.08,295.06 L761.94,294.75 L762.70,295.17 L763.84,294.89 L764.80,295.39 L765.67,296.10 L766.50,296.84 L767.10,296.80 L767.70,297.60 L768.30,298.25 L768.94,298.97 L769.56,299.46 L770.00,300.20" fill="none" stroke="#2b6d92" stroke-width="1.35" stroke-linejoin="round" stroke-linecap="round"/>
<line x1="637.40" y1="309.00" x2="637.40" y2="323.80" stroke="#000" stroke-width="1.55"/>
<path d="M635.00,323.30 L639.80,323.30 L637.40,328.00 Z" fill="#000"/>
<text x="637.40" y="307.77" font-size="9.20" text-anchor="middle" fill="#1a1a1a" font-weight="normal"  textLength="9.89" lengthAdjust="spacingAndGlyphs">V0</text>
<line x1="703.50" y1="196.10" x2="703.50" y2="210.50" stroke="#000" stroke-width="1.55"/>
<path d="M701.10,210.00 L705.90,210.00 L703.50,214.70 Z" fill="#000"/>
<text x="703.50" y="194.57" font-size="9.20" text-anchor="middle" fill="#1a1a1a" font-weight="normal"  textLength="9.89" lengthAdjust="spacingAndGlyphs">P1</text>
<defs>
<filter id="b0" x="-20%" y="-100%" width="140%" height="300%"><feGaussianBlur stdDeviation="0.45"/></filter>
<filter id="b1" x="-20%" y="-100%" width="140%" height="300%"><feGaussianBlur stdDeviation="0.7"/></filter>
<filter id="b2" x="-20%" y="-100%" width="140%" height="300%"><feGaussianBlur stdDeviation="0.95"/></filter>
<filter id="b3" x="-30%" y="-150%" width="160%" height="400%"><feGaussianBlur stdDeviation="1.6"/></filter>
<filter id="b6" x="-50%" y="-50%" width="200%" height="200%"><feGaussianBlur stdDeviation="4"/></filter>
<clipPath id="cA"><rect x="3.3" y="393.2" width="93.5" height="127.4"/></clipPath>
<clipPath id="cB"><rect x="342.3" y="394.2" width="133.5" height="127.3"/></clipPath>
<clipPath id="cC"><rect x="627.8" y="393.2" width="69.0" height="128.5"/></clipPath>
<clipPath id="cW"><rect x="121.2" y="393.3" width="99.3" height="127.0"/></clipPath>
<linearGradient id="wbL" x1="0" y1="0" x2="1" y2="0">
 <stop offset="0" stop-color="#1c1c1c" stop-opacity="0.9"/><stop offset="0.55" stop-color="#1c1c1c" stop-opacity="1"/><stop offset="0.85" stop-color="#1c1c1c" stop-opacity="0.6"/><stop offset="1" stop-color="#1c1c1c" stop-opacity="0"/>
</linearGradient>
<linearGradient id="gA" gradientUnits="userSpaceOnUse" x1="3.3" y1="0" x2="96.8" y2="0">
 <stop offset="0" stop-color="#e8e6ea"/><stop offset="0.09" stop-color="#e2dfe4"/><stop offset="0.22" stop-color="#d6d2da"/><stop offset="0.43" stop-color="#cbc7d0"/><stop offset="0.6" stop-color="#c8c4cc"/><stop offset="1" stop-color="#c6c2c8"/>
</linearGradient>
<linearGradient id="gAb" gradientUnits="userSpaceOnUse" x1="0" y1="393" x2="0" y2="521">
 <stop offset="0" stop-color="#d6cebf" stop-opacity="0"/><stop offset="0.72" stop-color="#d6cebf" stop-opacity="0"/><stop offset="1" stop-color="#d6cebf" stop-opacity="0.8"/>
</linearGradient>
<linearGradient id="gB" gradientUnits="userSpaceOnUse" x1="0" y1="394" x2="0" y2="521.5">
 <stop offset="0" stop-color="#dee0e4"/><stop offset="0.1" stop-color="#d9dbe1"/><stop offset="0.23" stop-color="#ced0d7"/><stop offset="0.4" stop-color="#c3c4cc"/><stop offset="0.6" stop-color="#bdbec5"/><stop offset="1" stop-color="#b1b2b3"/>
</linearGradient>
<linearGradient id="gBl" gradientUnits="userSpaceOnUse" x1="342" y1="0" x2="476" y2="0">
 <stop offset="0" stop-color="#707a78" stop-opacity="0.16"/><stop offset="0.25" stop-color="#707a78" stop-opacity="0.06"/><stop offset="0.5" stop-color="#707a78" stop-opacity="0"/><stop offset="0.8" stop-color="#c8c6d0" stop-opacity="0"/><stop offset="1" stop-color="#c8c6d0" stop-opacity="0.25"/>
</linearGradient>
<linearGradient id="gBh" x1="0" y1="0" x2="1" y2="0">
 <stop offset="0" stop-color="#b8b8c8" stop-opacity="0"/><stop offset="0.5" stop-color="#b8b8c8" stop-opacity="0"/><stop offset="1" stop-color="#b4b4c6" stop-opacity="0.7"/>
</linearGradient>
<linearGradient id="gC" x1="0" y1="0" x2="0" y2="1">
 <stop offset="0" stop-color="#b4b4c4"/><stop offset="0.12" stop-color="#b9b9c8"/><stop offset="0.4" stop-color="#bbbcc6"/><stop offset="0.75" stop-color="#bbbcc0"/><stop offset="1" stop-color="#babab8"/>
</linearGradient>
</defs>
<g clip-path="url(#cA)">
<rect x="3.3" y="393.2" width="93.5" height="127.4" fill="url(#gA)"/>
<path d="M0,390 L17,390 C13,420 10,450 9,525 L0,525 Z" fill="#e2e0e2" opacity="0.6" filter="url(#b6)"/>
<rect x="0" y="495" width="40" height="30" fill="#d6d0c8" opacity="0.5" filter="url(#b6)"/>
<rect x="3" y="392.5" width="95" height="2.2" fill="#d8d6d8" opacity="0.8" filter="url(#b0)"/>
<rect x="3.3" y="393.2" width="93.5" height="127.4" fill="url(#gAb)"/>
<rect x="6.60" y="428.90" width="8.20" height="2.60" rx="1.30" fill="#7c6cc8" opacity="0.90" filter="url(#b1)"/>
<rect x="14.20" y="429.30" width="8.40" height="2.60" rx="1.30" fill="#7c6cc8" opacity="0.90" filter="url(#b1)"/>
<rect x="27.20" y="428.35" width="13.90" height="2.90" rx="1.45" fill="#7464c6" opacity="0.95" filter="url(#b1)"/>
<rect x="44.00" y="484.00" width="36.00" height="3.00" rx="1.50" fill="#9a88d0" opacity="0.22" filter="url(#b3)"/>
<rect x="44.00" y="496.30" width="36.00" height="3.00" rx="1.50" fill="#9a88d0" opacity="0.22" filter="url(#b3)"/>
<rect x="42.50" y="487.80" width="17.30" height="7.20" rx="3.60" fill="#5f49b8" opacity="1.00" filter="url(#b1)"/>
<rect x="61.90" y="487.80" width="20.20" height="7.20" rx="3.60" fill="#5f49b8" opacity="1.00" filter="url(#b1)"/>
<rect x="80.30" y="397.00" width="12.70" height="1.60" rx="0.80" fill="#5a68b4" opacity="0.75" filter="url(#b1)"/>
<rect x="80.30" y="400.36" width="13.20" height="1.68" rx="0.84" fill="#5262b4" opacity="0.86" filter="url(#b1)"/>
<rect x="80.30" y="403.22" width="13.70" height="1.76" rx="0.88" fill="#4858b4" opacity="0.92" filter="url(#b1)"/>
<rect x="80.80" y="408.28" width="13.50" height="2.24" rx="1.12" fill="#4858b4" opacity="0.92" filter="url(#b1)"/>
<rect x="81.00" y="415.80" width="13.50" height="2.80" rx="1.40" fill="#6474b4" opacity="0.70" filter="url(#b2)"/>
<rect x="81.00" y="422.90" width="13.80" height="4.60" rx="2.30" fill="#2034b8" opacity="1.00" filter="url(#b2)"/>
<rect x="82.20" y="429.70" width="11.80" height="2.40" rx="1.20" fill="#6c7cbc" opacity="0.60" filter="url(#b2)"/>
<rect x="83.30" y="441.00" width="11.50" height="3.00" rx="1.50" fill="#566cbc" opacity="0.80" filter="url(#b2)"/>
<rect x="83.30" y="450.70" width="11.50" height="3.20" rx="1.60" fill="#3c58c0" opacity="0.90" filter="url(#b2)"/>
<rect x="84.20" y="475.50" width="10.40" height="3.00" rx="1.50" fill="#8898b8" opacity="0.60" filter="url(#b2)"/>
<rect x="84.50" y="496.40" width="9.70" height="3.00" rx="1.50" fill="#9ca2b8" opacity="0.50" filter="url(#b2)"/>
</g>
<rect x="3.3" y="393.2" width="93.3" height="127.3" fill="none" stroke="#747474" stroke-width="1"/>
<text x="15.25" y="391.60" font-size="8.40" text-anchor="middle" fill="#111" style="stroke-width:0.32px" textLength="15.80" lengthAdjust="spacingAndGlyphs">P1U</text>
<text x="33.90" y="391.60" font-size="8.40" text-anchor="middle" fill="#111" style="stroke-width:0.32px" textLength="15.70" lengthAdjust="spacingAndGlyphs">P1H</text>
<text x="53.40" y="391.60" font-size="8.40" text-anchor="middle" fill="#111" style="stroke-width:0.32px" textLength="15.70" lengthAdjust="spacingAndGlyphs">P2U</text>
<text x="70.50" y="391.60" font-size="8.40" text-anchor="middle" fill="#111" style="stroke-width:0.32px" textLength="16.10" lengthAdjust="spacingAndGlyphs">P2H</text>
<text x="109.15" y="377.80" font-size="8.50" text-anchor="middle" fill="#111" style="stroke-width:0.32px" textLength="17.81" lengthAdjust="spacingAndGlyphs">MWt</text>
<text x="109.15" y="387.90" font-size="8.50" text-anchor="middle" fill="#111" style="stroke-width:0.32px" textLength="21.21" lengthAdjust="spacingAndGlyphs">(kDa)</text>
<text x="109.20" y="397.30" font-size="5.90" text-anchor="middle" fill="#111" style="stroke-width:0.25px">250</text>
<text x="109.20" y="400.80" font-size="5.90" text-anchor="middle" fill="#111" style="stroke-width:0.25px">180</text>
<text x="109.20" y="404.20" font-size="5.90" text-anchor="middle" fill="#111" style="stroke-width:0.25px">130</text>
<text x="109.20" y="411.60" font-size="5.90" text-anchor="middle" fill="#111" style="stroke-width:0.25px">95</text>
<text x="109.20" y="419.20" font-size="5.90" text-anchor="middle" fill="#111" style="stroke-width:0.25px">72</text>
<text x="109.20" y="427.80" font-size="5.90" text-anchor="middle" fill="#111" style="stroke-width:0.25px">55</text>
<text x="109.20" y="433.90" font-size="5.90" text-anchor="middle" fill="#111" style="stroke-width:0.25px">43</text>
<text x="109.20" y="443.60" font-size="5.90" text-anchor="middle" fill="#111" style="stroke-width:0.25px">34</text>
<text x="109.20" y="453.80" font-size="5.90" text-anchor="middle" fill="#111" style="stroke-width:0.25px">26</text>
<text x="109.20" y="478.30" font-size="5.90" text-anchor="middle" fill="#111" style="stroke-width:0.25px">17</text>
<text x="109.20" y="498.90" font-size="5.90" text-anchor="middle" fill="#111" style="stroke-width:0.25px">11</text>
<text x="49.90" y="530.20" font-size="9.00" text-anchor="middle" fill="#111" style="stroke-width:0.32px" textLength="64.34" lengthAdjust="spacingAndGlyphs">Coomassie stain</text>
<g clip-path="url(#cW)">
<rect x="121.2" y="393.3" width="99.3" height="127.0" fill="#fbfbfb"/>
<rect x="121" y="393" width="48" height="128" fill="#efefef" opacity="0.7" filter="url(#b6)"/>
<rect x="124.60" y="398.20" width="16.40" height="1.20" rx="0.60" fill="url(#wbL)" opacity="0.25" filter="url(#b0)"/>
<rect x="124.60" y="401.25" width="16.90" height="1.30" rx="0.65" fill="url(#wbL)" opacity="0.30" filter="url(#b0)"/>
<rect x="124.60" y="404.15" width="17.40" height="1.30" rx="0.65" fill="url(#wbL)" opacity="0.32" filter="url(#b0)"/>
<rect x="124.60" y="406.50" width="16.40" height="1.00" rx="0.50" fill="url(#wbL)" opacity="0.15" filter="url(#b0)"/>
<rect x="124.60" y="409.30" width="18.40" height="1.80" rx="0.90" fill="url(#wbL)" opacity="0.40" filter="url(#b2)"/>
<rect x="124.60" y="416.80" width="18.40" height="2.80" rx="1.40" fill="url(#wbL)" opacity="0.55" filter="url(#b2)"/>
<rect x="124.60" y="422.00" width="17.40" height="5.00" rx="2.50" fill="url(#wbL)" opacity="0.30" filter="url(#b2)"/>
<rect x="124.60" y="430.50" width="17.40" height="2.20" rx="1.10" fill="url(#wbL)" opacity="0.50" filter="url(#b2)"/>
<rect x="124.60" y="441.10" width="17.40" height="3.00" rx="1.50" fill="url(#wbL)" opacity="0.65" filter="url(#b2)"/>
<rect x="124.60" y="451.60" width="17.40" height="3.00" rx="1.50" fill="url(#wbL)" opacity="0.62" filter="url(#b2)"/>
<rect x="124.60" y="475.30" width="17.40" height="3.40" rx="1.70" fill="url(#wbL)" opacity="0.68" filter="url(#b2)"/>
<rect x="124.60" y="495.50" width="17.40" height="4.00" rx="2.00" fill="url(#wbL)" opacity="0.58" filter="url(#b2)"/>
<rect x="144.00" y="425.80" width="16.00" height="8.00" rx="4.00" fill="#000" opacity="0.08" filter="url(#b3)"/>
<rect x="164.00" y="426.20" width="16.00" height="8.00" rx="4.00" fill="#000" opacity="0.08" filter="url(#b3)"/>
<rect x="145.70" y="427.30" width="6.80" height="4.40" rx="2.00" fill="#000" opacity="1.00" filter="url(#b1)"/>
<rect x="151.00" y="427.40" width="7.40" height="4.40" rx="2.00" fill="#000" opacity="1.00" filter="url(#b1)"/>
<rect x="166.00" y="427.90" width="12.60" height="4.20" rx="2.00" fill="#000" opacity="1.00" filter="url(#b1)"/>
<rect x="183.00" y="489.00" width="35.00" height="12.00" rx="6.00" fill="#000" opacity="0.07" filter="url(#b3)"/>
<rect x="185.00" y="491.00" width="13.60" height="7.40" rx="3.70" fill="#000" opacity="1.00" filter="url(#b1)"/>
<rect x="204.00" y="491.00" width="12.60" height="7.80" rx="3.90" fill="#000" opacity="1.00" filter="url(#b1)"/>
</g>
<rect x="121.2" y="393.3" width="99.3" height="127.0" fill="none" stroke="#8a8a8a" stroke-width="1"/>
<text x="153.45" y="391.90" font-size="8.40" text-anchor="middle" fill="#111" style="stroke-width:0.32px" textLength="16.00" lengthAdjust="spacingAndGlyphs">P1U</text>
<text x="172.25" y="391.90" font-size="8.40" text-anchor="middle" fill="#111" style="stroke-width:0.32px" textLength="15.00" lengthAdjust="spacingAndGlyphs">P1H</text>
<text x="191.75" y="391.90" font-size="8.40" text-anchor="middle" fill="#111" style="stroke-width:0.32px" textLength="15.40" lengthAdjust="spacingAndGlyphs">P2U</text>
<text x="208.75" y="391.90" font-size="8.40" text-anchor="middle" fill="#111" style="stroke-width:0.32px" textLength="16.60" lengthAdjust="spacingAndGlyphs">P2H</text>
<text x="172.75" y="530.20" font-size="9.00" text-anchor="middle" fill="#111" style="stroke-width:0.32px" textLength="49.64" lengthAdjust="spacingAndGlyphs">Western Blot</text>
<line x1="227.10" y1="430.40" x2="232.70" y2="430.40" stroke="#000" stroke-width="1.2"/>
<path d="M224.10,430.40 L227.90,428.20 L227.90,432.60 Z" fill="#000"/>
<text x="252.80" y="434.10" font-size="8.80" text-anchor="middle" fill="#111" style="stroke-width:0.32px" textLength="34.93" lengthAdjust="spacingAndGlyphs">Oligomer</text>
<line x1="227.10" y1="496.00" x2="232.70" y2="496.00" stroke="#000" stroke-width="1.2"/>
<path d="M224.10,496.00 L227.90,493.80 L227.90,498.20 Z" fill="#000"/>
<text x="254.55" y="499.70" font-size="8.80" text-anchor="middle" fill="#111" style="stroke-width:0.32px" textLength="36.83" lengthAdjust="spacingAndGlyphs">Monomer</text>
<g clip-path="url(#cB)">
<rect x="342.3" y="394.2" width="133.5" height="127.3" fill="url(#gB)"/>
<rect x="342.3" y="394.2" width="133.5" height="127.3" fill="url(#gBl)"/>
<ellipse cx="455" cy="445" rx="30" ry="30" fill="#b8b8c8" opacity="0.35" filter="url(#b6)"/>
<rect x="340" y="390" width="5" height="135" fill="#9a9ea2" opacity="0.8" filter="url(#b1)"/>
<rect x="340" y="519" width="140" height="5" fill="#9a9a9a" opacity="0.7" filter="url(#b1)"/>
<rect x="347.30" y="404.30" width="16.00" height="1.60" rx="0.80" fill="#4c5cb8" opacity="0.85" filter="url(#b1)"/>
<rect x="347.30" y="407.30" width="16.00" height="1.60" rx="0.80" fill="#4c5cb8" opacity="0.85" filter="url(#b1)"/>
<rect x="347.30" y="410.26" width="15.70" height="1.68" rx="0.84" fill="#4458b8" opacity="0.85" filter="url(#b1)"/>
<rect x="347.30" y="414.75" width="15.20" height="2.50" rx="1.25" fill="#4458b8" opacity="0.85" filter="url(#b2)"/>
<rect x="347.30" y="421.20" width="14.70" height="2.80" rx="1.40" fill="#5466b0" opacity="0.80" filter="url(#b2)"/>
<rect x="347.30" y="427.70" width="14.70" height="5.00" rx="2.50" fill="#1c32b8" opacity="1.00" filter="url(#b2)"/>
<rect x="347.30" y="435.40" width="12.40" height="2.20" rx="1.10" fill="#5668b4" opacity="0.80" filter="url(#b2)"/>
<rect x="347.30" y="445.70" width="12.40" height="3.20" rx="1.60" fill="#3a52b8" opacity="0.90" filter="url(#b2)"/>
<rect x="347.30" y="455.40" width="11.70" height="3.20" rx="1.60" fill="#2a44b8" opacity="1.00" filter="url(#b2)"/>
<rect x="347.30" y="480.00" width="10.70" height="3.60" rx="1.80" fill="#4a68a8" opacity="0.85" filter="url(#b2)"/>
<rect x="347.30" y="501.50" width="14.40" height="3.80" rx="1.90" fill="#44569e" opacity="0.95" filter="url(#b2)"/>
<ellipse cx="378.25" cy="499.20" rx="10.75" ry="1.50" fill="#8a80b8" opacity="0.80" filter="url(#b1)"/>
<ellipse cx="407.40" cy="503.30" rx="11.40" ry="2.50" fill="#a098c8" opacity="0.45" filter="url(#b3)"/>
<rect x="395.00" y="495.80" width="24.80" height="6" rx="6" ry="3" fill="#8070c2" opacity="0.95" filter="url(#b1)"/>
<ellipse cx="407.40" cy="498.80" rx="9.40" ry="1.30" fill="#6e5eb8" opacity="0.50" filter="url(#b1)"/>
<ellipse cx="435.25" cy="503.30" rx="10.25" ry="2.50" fill="#a098c8" opacity="0.45" filter="url(#b3)"/>
<rect x="424.00" y="495.80" width="22.50" height="6" rx="6" ry="3" fill="#8070c2" opacity="0.95" filter="url(#b1)"/>
<ellipse cx="435.25" cy="498.80" rx="8.25" ry="1.30" fill="#6e5eb8" opacity="0.50" filter="url(#b1)"/>
<ellipse cx="463.25" cy="502.30" rx="10.75" ry="2.50" fill="#a098c8" opacity="0.45" filter="url(#b3)"/>
<rect x="451.50" y="494.80" width="23.50" height="6" rx="6" ry="3" fill="#8070c2" opacity="0.95" filter="url(#b1)"/>
<ellipse cx="463.25" cy="497.80" rx="8.75" ry="1.30" fill="#6e5eb8" opacity="0.50" filter="url(#b1)"/>
</g>
<rect x="342.3" y="394.2" width="133.5" height="127.3" fill="none" stroke="#7a7a7a" stroke-width="1"/>
<text x="329.95" y="386.30" font-size="8.50" text-anchor="middle" fill="#111" style="stroke-width:0.32px" textLength="18.01" lengthAdjust="spacingAndGlyphs">MWt</text>
<text x="329.80" y="396.00" font-size="8.50" text-anchor="middle" fill="#111" style="stroke-width:0.32px" textLength="21.11" lengthAdjust="spacingAndGlyphs">(kDa)</text>
<text x="379.55" y="391.90" font-size="8.40" text-anchor="middle" fill="#111" style="stroke-width:0.32px" textLength="16.40" lengthAdjust="spacingAndGlyphs">P1H</text>
<text x="408.40" y="391.90" font-size="8.40" text-anchor="middle" fill="#111" style="stroke-width:0.32px" textLength="16.30" lengthAdjust="spacingAndGlyphs">P2H</text>
<text x="436.20" y="391.90" font-size="8.40" text-anchor="middle" fill="#111" style="stroke-width:0.32px" textLength="16.30" lengthAdjust="spacingAndGlyphs">P3H</text>
<text x="464.00" y="391.90" font-size="8.40" text-anchor="middle" fill="#111" style="stroke-width:0.32px" textLength="16.30" lengthAdjust="spacingAndGlyphs">P4H</text>
<text x="333.20" y="405.50" font-size="5.90" text-anchor="end" fill="#111" style="stroke-width:0.25px">250</text>
<text x="333.20" y="408.20" font-size="5.90" text-anchor="end" fill="#111" style="stroke-width:0.25px">180</text>
<text x="333.20" y="412.30" font-size="5.90" text-anchor="end" fill="#111" style="stroke-width:0.25px">130</text>
<text x="333.20" y="418.20" font-size="5.90" text-anchor="end" fill="#111" style="stroke-width:0.25px">95</text>
<text x="333.20" y="425.20" font-size="5.90" text-anchor="end" fill="#111" style="stroke-width:0.25px">72</text>
<text x="333.20" y="432.60" font-size="5.90" text-anchor="end" fill="#111" style="stroke-width:0.25px">55</text>
<text x="333.20" y="439.00" font-size="5.90" text-anchor="end" fill="#111" style="stroke-width:0.25px">43</text>
<text x="333.20" y="448.40" font-size="5.90" text-anchor="end" fill="#111" style="stroke-width:0.25px">34</text>
<text x="333.20" y="459.30" font-size="5.90" text-anchor="end" fill="#111" style="stroke-width:0.25px">26</text>
<text x="333.20" y="484.50" font-size="5.90" text-anchor="end" fill="#111" style="stroke-width:0.25px">17</text>
<text x="333.20" y="506.00" font-size="5.90" text-anchor="end" fill="#111" style="stroke-width:0.25px">11</text>
<line x1="480.80" y1="500.10" x2="488.40" y2="500.10" stroke="#000" stroke-width="1.2"/>
<path d="M477.80,500.10 L481.60,497.90 L481.60,502.30 Z" fill="#000"/>
<text x="508.20" y="503.50" font-size="8.80" text-anchor="middle" fill="#111" style="stroke-width:0.32px" textLength="36.13" lengthAdjust="spacingAndGlyphs">Monomer</text>
<g clip-path="url(#cC)">
<rect x="627.8" y="393.2" width="69.0" height="128.5" fill="url(#gC)"/>
<rect x="668.20" y="403.44" width="23.70" height="1.52" rx="0.76" fill="#4c54a8" opacity="0.85" filter="url(#b1)"/>
<rect x="668.00" y="406.34" width="24.30" height="1.52" rx="0.76" fill="#4c54a8" opacity="0.85" filter="url(#b1)"/>
<rect x="667.40" y="409.60" width="25.30" height="1.60" rx="0.80" fill="#4c54a8" opacity="0.85" filter="url(#b1)"/>
<rect x="666.10" y="415.20" width="28.20" height="2.40" rx="1.20" fill="#4c58ac" opacity="0.85" filter="url(#b2)"/>
<rect x="666.10" y="422.70" width="28.20" height="2.80" rx="1.40" fill="#4c5aac" opacity="0.85" filter="url(#b2)"/>
<rect x="665.70" y="429.80" width="28.60" height="4.40" rx="2.20" fill="#2a3ab0" opacity="1.00" filter="url(#b2)"/>
<rect x="667.80" y="437.70" width="24.10" height="2.20" rx="1.10" fill="#5060b0" opacity="0.85" filter="url(#b2)"/>
<rect x="667.50" y="448.70" width="25.00" height="3.00" rx="1.50" fill="#4a5cb4" opacity="0.90" filter="url(#b2)"/>
<rect x="667.50" y="457.90" width="25.00" height="3.00" rx="1.50" fill="#4a5cb4" opacity="0.90" filter="url(#b2)"/>
<rect x="668.40" y="483.10" width="21.60" height="3.00" rx="1.50" fill="#5068b8" opacity="0.85" filter="url(#b2)"/>
<rect x="668.40" y="503.10" width="21.60" height="3.00" rx="1.50" fill="#5068b8" opacity="0.85" filter="url(#b2)"/>
<path d="M631.2,504.6 C638,502.7 648,501.7 660.4,501.4" fill="none" stroke="#8878c0" stroke-width="5.2" stroke-linecap="round" opacity="0.35" filter="url(#b1)"/>
<path d="M631.2,504.6 C638,502.7 648,501.7 660.4,501.4" fill="none" stroke="#6454b4" stroke-width="3.3" stroke-linecap="round" filter="url(#b0)"/>
</g>
<rect x="627.8" y="393.2" width="69.0" height="128.5" fill="none" stroke="#7a7a7a" stroke-width="1"/>
<text x="707.30" y="385.70" font-size="8.50" text-anchor="middle" fill="#111" style="stroke-width:0.32px" textLength="17.91" lengthAdjust="spacingAndGlyphs">MWt</text>
<text x="707.45" y="395.80" font-size="8.50" text-anchor="middle" fill="#111" style="stroke-width:0.32px" textLength="21.01" lengthAdjust="spacingAndGlyphs">(kDa)</text>
<text x="644.50" y="391.80" font-size="8.40" text-anchor="middle" fill="#111" style="stroke-width:0.32px" textLength="16.10" lengthAdjust="spacingAndGlyphs">P1U</text>
<text x="700.00" y="405.40" font-size="5.90" text-anchor="start" fill="#111" style="stroke-width:0.25px">250</text>
<text x="700.00" y="407.80" font-size="5.90" text-anchor="start" fill="#111" style="stroke-width:0.25px">180</text>
<text x="700.00" y="412.60" font-size="5.90" text-anchor="start" fill="#111" style="stroke-width:0.25px">130</text>
<text x="700.00" y="418.20" font-size="5.90" text-anchor="start" fill="#111" style="stroke-width:0.25px">95</text>
<text x="700.00" y="426.00" font-size="5.90" text-anchor="start" fill="#111" style="stroke-width:0.25px">72</text>
<text x="700.00" y="433.80" font-size="5.90" text-anchor="start" fill="#111" style="stroke-width:0.25px">55</text>
<text x="700.00" y="440.80" font-size="5.90" text-anchor="start" fill="#111" style="stroke-width:0.25px">43</text>
<text x="700.00" y="450.70" font-size="5.90" text-anchor="start" fill="#111" style="stroke-width:0.25px">34</text>
<text x="700.00" y="460.70" font-size="5.90" text-anchor="start" fill="#111" style="stroke-width:0.25px">26</text>
<text x="700.00" y="485.70" font-size="5.90" text-anchor="start" fill="#111" style="stroke-width:0.25px">17</text>
<text x="700.00" y="506.70" font-size="5.90" text-anchor="start" fill="#111" style="stroke-width:0.25px">11</text>
<text x="598.85" y="503.60" font-size="8.80" text-anchor="middle" fill="#111" style="stroke-width:0.32px" textLength="36.83" lengthAdjust="spacingAndGlyphs">Monomer</text>
<line x1="616.50" y1="500.60" x2="624.50" y2="500.60" stroke="#000" stroke-width="1.2"/>
<path d="M627.50,500.60 L623.70,498.40 L623.70,502.80 Z" fill="#000"/>
</svg>
</body></html>
